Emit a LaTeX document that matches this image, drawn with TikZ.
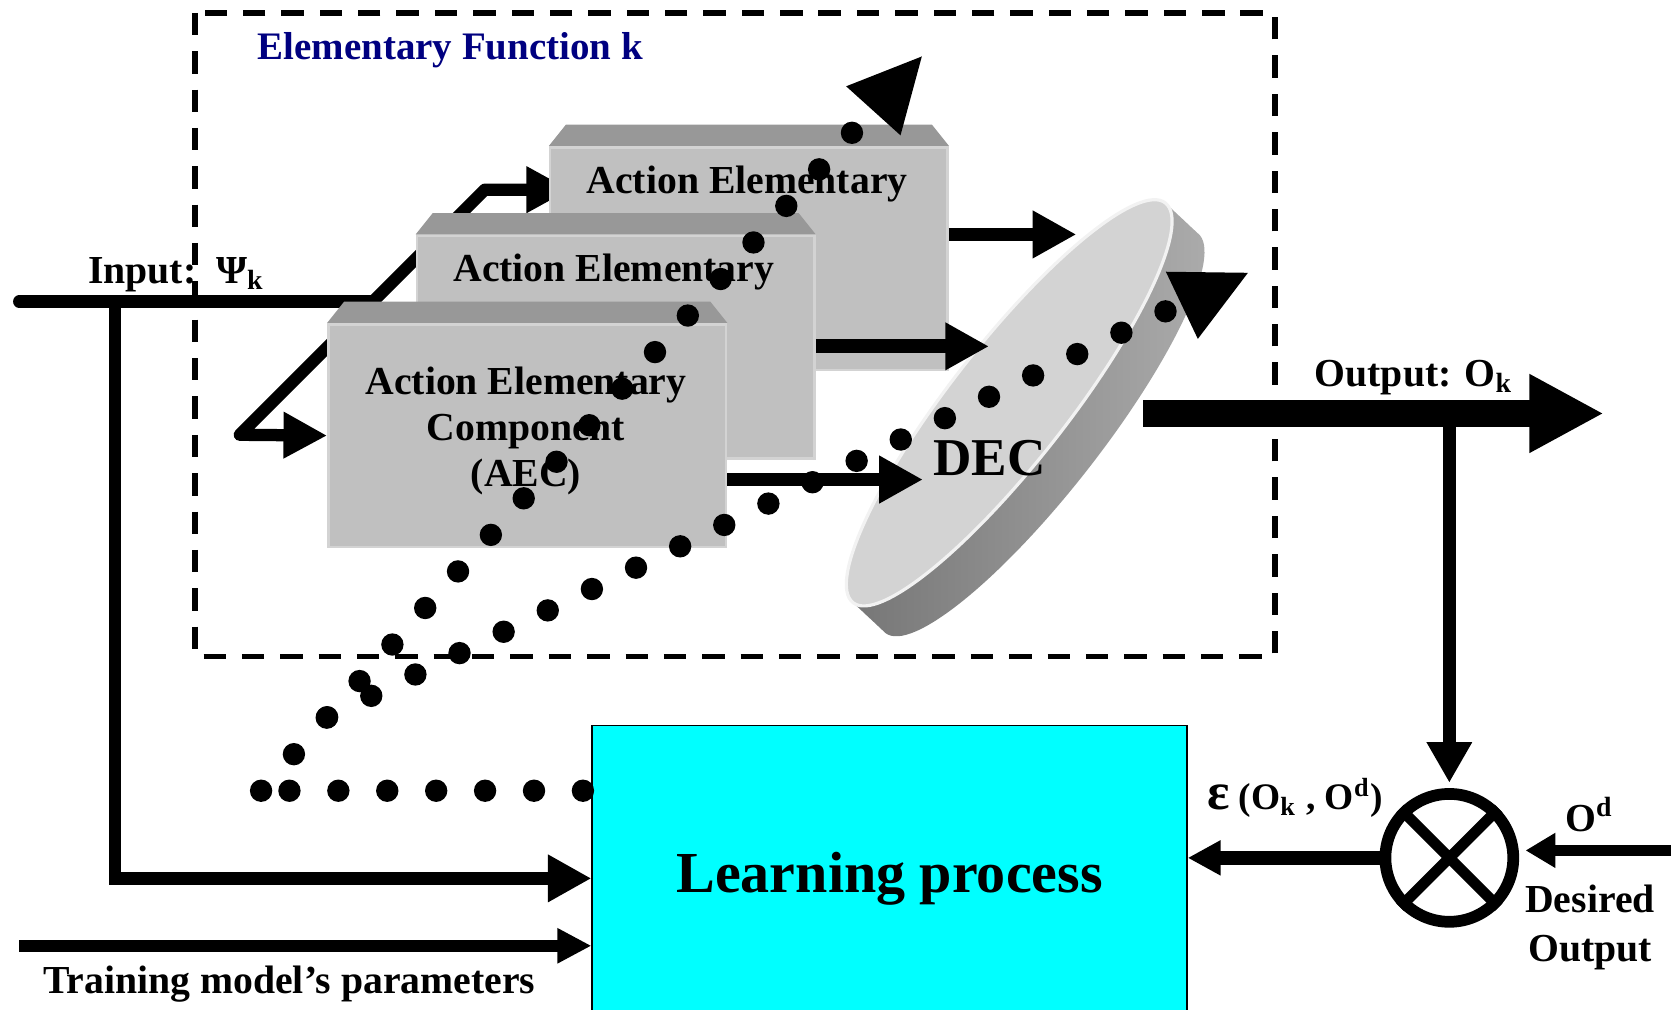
\documentclass[tikz,border=0pt]{standalone}
\usepackage{fontspec}
\setmainfont{Liberation Serif}
\usetikzlibrary{arrows.meta,positioning,calc,backgrounds}

\definecolor{titleblue}{RGB}{0,0,128}
\definecolor{aecfront}{RGB}{192,192,192}
\definecolor{aectop}{RGB}{152,152,152}
\definecolor{decface}{RGB}{211,211,211}
\definecolor{learncyan}{RGB}{0,255,255}

\begin{document}
\begin{tikzpicture}[
  x=0.1mm,
  y=-0.1mm,
  lbl/.style = {
    font=\fontsize{10.6}{13}\selectfont\bfseries,
    inner sep=0pt
  },
  aec/.style = {
    shape=rectangle,
    fill=aecfront,
    draw=aecfront!70!white,
    line width=0.25mm,
    minimum width=37.3mm,
    minimum height=20.9mm,
    inner sep=0pt,
    anchor=north west
  },
  wire/.style = {line width=1.15mm, line join=round},
  bighead/.style = {-{Triangle[length=4.1mm,width=4.2mm]}},
  smallhead/.style = {-{Triangle[length=3.1mm,width=3.1mm]}},
  dotchain/.style = {
    line width=2.1mm,
    line cap=round,
    dash pattern=on 0pt off #1
  },
]
  \useasboundingbox (0,0) rectangle (1568,947);
  \clip (0,0) rectangle (1568,947);

  \draw[line width=0.55mm, dash pattern=on 2.1mm off 1.5mm] (183,12) rectangle (1196,616);
  \node (title)[
    lbl,
    font=\fontsize{10.4}{13}\selectfont\bfseries,
    text=titleblue,
    anchor=base west
  ] at (241,56) {Elementary Function k};

  \foreach \b/\x/\y in {1/515/137, 2/390/220, 3/307/303} {
    \node (box\b)[aec] at (\x,\y) {};
    \fill[aectop] (box\b.north west) -- ++(16,-20)
      -- ($(box\b.north east)+(-16,-20)$) -- (box\b.north east) -- cycle;
  }
  \node (txt1)[lbl, anchor=base] at (701,181.5) {Action Elementary};
  \node (txt2)[lbl, anchor=base] at (576,264.5) {Action Elementary};
  \node (txt3)[
    lbl,
    anchor=north,
    align=center,
    font=\fontsize{10.6}{12.2}\selectfont\bfseries
  ] at (493.5,344) {Action Elementary\\Component\\(AEC)};

  \begin{scope}[on background layer]
    \coordinate (in) at (18,283);
    \coordinate (fork) at (350,283);
    \coordinate (tap) at (108,283);
    \coordinate (lo) at (225,408);
    \coordinate (hi) at (455,178);
    \draw[wire, line cap=round] (in) -- (fork);
    \draw[wire, {Triangle[length=4.1mm,width=4.1mm]}-{Triangle[length=4.1mm,width=4.1mm]}]
      ($(hi)+(80,0)$) -- (hi) -- (lo) -- (box3.west);
  \end{scope}

  \begin{scope}[shift={(947,378)}, rotate=52]
    \shade[left color=black!55, right color=black!32]
      \foreach \t in {0,0.05,...,1} {(-3.9*\t,43.7*\t) ellipse [x radius=238, y radius=55]};
    \fill[decface, draw=white!70!decface, line width=0.3mm] (0,0) ellipse [x radius=238, y radius=55];
  \end{scope}
  \node (dec)[
    font=\fontsize{14.2}{17}\selectfont\bfseries,
    inner sep=0pt,
    anchor=base west
  ] at (875,446) {DEC};

  \coordinate (dec1) at (1010,220);
  \coordinate (dec2) at (928,325);
  \coordinate (dec3) at (866,450);
  \draw[line width=1.3mm, bighead] (box1.east |- dec1) -- (dec1);
  \draw[line width=1.3mm, bighead] (box2.east |- dec2) -- (dec2);
  \draw[line width=1.3mm, bighead] (box3.east |- dec3) -- (dec3);

  \coordinate (decout) at (1073,388);
  \coordinate (outend) at (1505,388);
  \draw[line width=2.5mm, -{Triangle[length=7mm,width=6.9mm]}] (decout) -- (outend);
  \node (outlbl)[lbl, anchor=base west] at (1233,363) {Output: O\textsubscript{k}};

  \node (learn)[
    fill=learncyan,
    draw,
    line width=0.15mm,
    minimum width=55.8mm,
    minimum height=28.7mm,
    anchor=north west,
    font=\fontsize{15.5}{18}\selectfont\bfseries
  ] at (555,680) {Learning process};

  \node (cmp)[circle, draw, line width=1.1mm, minimum size=12mm, inner sep=0pt] at (1360,805) {};
  \draw[line width=1mm] (cmp.45) -- (cmp.225) (cmp.135) -- (cmp.315);
  \draw[line width=1.2mm, shorten >=0.5mm, -{Triangle[length=3.8mm,width=4mm]}] (cmp |- decout) -- (cmp.north);
  \draw[line width=1.3mm, smallhead] (cmp.west) -- (cmp.west -| learn.east);
  \coordinate (odin) at (1580,798);
  \draw[line width=1mm, shorten >=0.6mm, -{Triangle[length=2.8mm,width=3.1mm]}] (odin) -- (odin -| cmp.east);

  \draw[wire, line join=miter, bighead] (tap) |- (learn.west);
  \coordinate (trainin) at (18,887.5);
  \draw[line width=1.1mm, -{Triangle[length=3.2mm,width=3.1mm]}] (trainin) -- (trainin -| learn.west);
  \node (trainlbl)[lbl, anchor=base west] at (40,932) {Training model’s parameters};

  \node (inlbl)[lbl, anchor=base west] at (82,266) {Input:\enspace Ψ\textsubscript{k}};
  \node (errlbl)[
    lbl,
    font=\fontsize{10}{12}\selectfont\bfseries,
    anchor=base west
  ] at (1132,760) {{\fontsize{14}{14}\selectfont ε} (O\textsubscript{k} , O\textsuperscript{d})};
  \node (odlbl)[lbl, anchor=base west] at (1468,780) {O\textsuperscript{d}};
  \node (desired)[lbl, align=center, anchor=north] at (1492,830) {Desired\\Output};

  \coordinate (rowA) at (547,742);
  \coordinate (rowB) at (271,742);
  \coordinate (a0) at (245,742);
  \coordinate (a1) at (800,124);
  \coordinate (b0) at (307,673);
  \coordinate (b1) at (1094,292);
  \draw[dotchain=4.59mm] (rowA) -- (rowB);
  \draw[dotchain=4.61mm] (a0) -- (a1);
  \draw[dotchain=4.6mm] (b0) -- (b1);
  \fill (a1) ++(-6,-43) -- ++(71,-28) -- ++(-20,74) -- cycle;
  \fill (b1) ++(0,-37) -- ++(77,1) -- ++(-47,62) -- cycle;
\end{tikzpicture}
\end{document}
